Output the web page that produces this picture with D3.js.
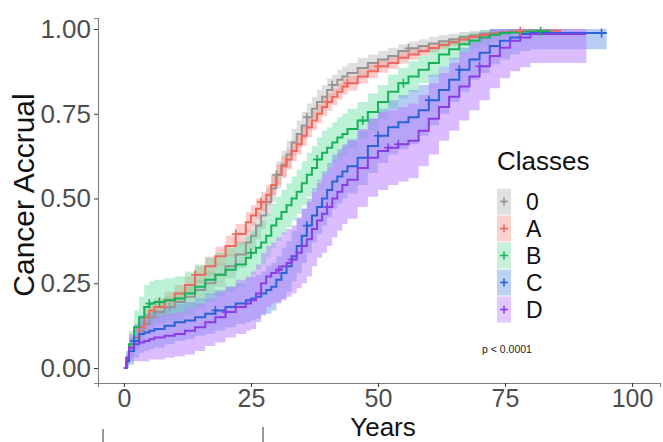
<!DOCTYPE html>
<html>
<head>
<meta charset="utf-8">
<script src="https://cdn.jsdelivr.net/npm/d3@7"></script>
<style>
  html, body { margin: 0; padding: 0; background: #fff; }
  svg { display: block; font-family: "Liberation Sans", Arial, sans-serif; }
</style>
</head>
<body>
<svg id="chart" width="663" height="442"></svg>
<script>
// Cumulative cancer accrual by class (step curves with confidence bands)
const classes = ["0", "A", "B", "C", "D"];

// shared event-time grid (years)
const times = [0, 0.5, 1, 2, 3, 4, 5, 6, 8, 10,
  12, 14, 16, 18, 20, 22, 24,
  25, 26, 27, 28, 29, 30, 31, 32, 33, 34,
  35, 36, 37, 38, 39, 40, 41, 42, 43, 44,
  46, 48, 50, 52, 54, 56, 58, 60, 62, 64,
  66, 68, 70, 72, 74, 76, 78, 80];

// last follow-up time per class
const endTimes = [83, 86, 84, 95, 91];

const accrual0 = [0, 0.02, 0.05, 0.08, 0.11, 0.13, 0.15, 0.165, 0.18, 0.195,
  0.21, 0.23, 0.25, 0.275, 0.30, 0.335, 0.37,
  0.39, 0.42, 0.45, 0.49, 0.53, 0.57, 0.60, 0.63, 0.665, 0.69,
  0.715, 0.74, 0.765, 0.785, 0.80, 0.82, 0.835, 0.85, 0.86, 0.87,
  0.885, 0.90, 0.91, 0.92, 0.935, 0.943, 0.95, 0.957, 0.964, 0.97,
  0.976, 0.981, 0.985, 0.988, 0.991, 0.993, 0.994, 0.995];
const accrualA = [0, 0.03, 0.06, 0.09, 0.12, 0.15, 0.17, 0.18, 0.20, 0.22,
  0.245, 0.275, 0.30, 0.33, 0.36, 0.395, 0.43,
  0.45, 0.47, 0.49, 0.51, 0.54, 0.57, 0.595, 0.615, 0.64, 0.66,
  0.685, 0.71, 0.73, 0.75, 0.77, 0.785, 0.80, 0.815, 0.83, 0.84,
  0.86, 0.875, 0.89, 0.90, 0.915, 0.925, 0.935, 0.944, 0.953, 0.961,
  0.969, 0.976, 0.982, 0.986, 0.99, 0.992, 0.994, 0.995];
const accrualB = [0, 0.03, 0.07, 0.12, 0.15, 0.18, 0.19, 0.195, 0.20, 0.205,
  0.22, 0.24, 0.26, 0.275, 0.29, 0.305, 0.325,
  0.34, 0.355, 0.37, 0.39, 0.42, 0.44, 0.46, 0.48, 0.50, 0.52,
  0.545, 0.57, 0.59, 0.615, 0.635, 0.65, 0.665, 0.68, 0.69, 0.705,
  0.73, 0.755, 0.785, 0.815, 0.84, 0.86, 0.88, 0.90, 0.925, 0.94,
  0.955, 0.965, 0.975, 0.983, 0.988, 0.99, 0.992, 0.993];
const accrualC = [0, 0.02, 0.05, 0.08, 0.10, 0.105, 0.11, 0.115, 0.125, 0.135,
  0.14, 0.15, 0.16, 0.17, 0.18, 0.19, 0.20,
  0.205, 0.21, 0.22, 0.23, 0.24, 0.26, 0.28, 0.30, 0.33, 0.36,
  0.39, 0.42, 0.45, 0.475, 0.50, 0.525, 0.55, 0.565, 0.58, 0.595,
  0.62, 0.655, 0.685, 0.71, 0.725, 0.74, 0.76, 0.79, 0.82, 0.85,
  0.88, 0.91, 0.93, 0.95, 0.965, 0.975, 0.985, 0.988];
const accrualD = [0, 0.03, 0.06, 0.07, 0.075, 0.08, 0.085, 0.09, 0.095, 0.10,
  0.11, 0.12, 0.135, 0.15, 0.165, 0.18, 0.19,
  0.20, 0.22, 0.25, 0.27, 0.28, 0.29, 0.30, 0.31, 0.32, 0.34,
  0.36, 0.38, 0.41, 0.435, 0.455, 0.475, 0.50, 0.52, 0.54, 0.555,
  0.59, 0.62, 0.64, 0.65, 0.66, 0.67, 0.70, 0.735, 0.77, 0.80,
  0.83, 0.86, 0.89, 0.92, 0.945, 0.965, 0.975, 0.985];

// confidence band half-widths
const err0 = [0, 0.01, 0.02, 0.025, 0.03, 0.03, 0.03, 0.03, 0.03, 0.03,
  0.03, 0.03, 0.035, 0.035, 0.035, 0.04, 0.04,
  0.04, 0.04, 0.04, 0.04, 0.04, 0.04, 0.04, 0.04, 0.04, 0.04,
  0.04, 0.04, 0.035, 0.035, 0.035, 0.035, 0.03, 0.03, 0.03, 0.03,
  0.03, 0.025, 0.025, 0.025, 0.02, 0.02, 0.02, 0.02, 0.018, 0.016,
  0.015, 0.013, 0.012, 0.01, 0.01, 0.008, 0.007, 0.006];
const errA = [0, 0.01, 0.015, 0.02, 0.025, 0.025, 0.025, 0.025, 0.025, 0.025,
  0.025, 0.025, 0.028, 0.028, 0.03, 0.03, 0.03,
  0.03, 0.03, 0.03, 0.03, 0.03, 0.03, 0.03, 0.03, 0.03, 0.03,
  0.03, 0.03, 0.028, 0.028, 0.027, 0.026, 0.025, 0.024, 0.023, 0.022,
  0.021, 0.02, 0.019, 0.018, 0.017, 0.016, 0.015, 0.014, 0.013, 0.012,
  0.011, 0.01, 0.009, 0.008, 0.007, 0.006, 0.005, 0.005];
const errB = [0, 0.02, 0.04, 0.05, 0.06, 0.065, 0.065, 0.065, 0.065, 0.065,
  0.065, 0.065, 0.065, 0.065, 0.065, 0.065, 0.065,
  0.065, 0.065, 0.065, 0.065, 0.065, 0.065, 0.065, 0.065, 0.065, 0.065,
  0.065, 0.065, 0.065, 0.065, 0.065, 0.06, 0.06, 0.06, 0.06, 0.06,
  0.055, 0.055, 0.05, 0.05, 0.045, 0.045, 0.04, 0.04, 0.035, 0.03,
  0.028, 0.025, 0.022, 0.02, 0.015, 0.012, 0.01, 0.008];
const errC = [0, 0.02, 0.04, 0.05, 0.055, 0.055, 0.055, 0.055, 0.055, 0.055,
  0.055, 0.055, 0.06, 0.06, 0.06, 0.06, 0.065,
  0.065, 0.065, 0.065, 0.07, 0.07, 0.07, 0.075, 0.075, 0.075, 0.08,
  0.08, 0.08, 0.08, 0.08, 0.08, 0.08, 0.08, 0.08, 0.08, 0.08,
  0.08, 0.08, 0.08, 0.08, 0.08, 0.08, 0.075, 0.075, 0.07, 0.065,
  0.065, 0.06, 0.06, 0.055, 0.055, 0.05, 0.05, 0.048];
const errD = [0, 0.02, 0.04, 0.05, 0.055, 0.06, 0.06, 0.065, 0.065, 0.065,
  0.07, 0.07, 0.07, 0.075, 0.075, 0.08, 0.08,
  0.085, 0.085, 0.09, 0.09, 0.09, 0.095, 0.1, 0.1, 0.1, 0.105,
  0.11, 0.11, 0.11, 0.11, 0.115, 0.115, 0.115, 0.115, 0.115, 0.115,
  0.115, 0.115, 0.115, 0.11, 0.11, 0.11, 0.105, 0.105, 0.1, 0.1,
  0.1, 0.1, 0.1, 0.095, 0.09, 0.09, 0.088, 0.085];

// censoring times per class
const censor0 = [9, 30, 36, 41, 56];
const censorA = [14, 22, 27, 40, 44, 50, 78];
const censorB = [5, 7, 25, 38, 47, 55, 82];
const censorC = [2, 18, 36, 50, 60, 66, 94];
const censorD = [20, 30.5, 33, 40, 52, 54, 70];

const yTicks = [0, 0.25, 0.5, 0.75, 1];
const xTicks = [0, 25, 50, 75, 100];
const pLabel = "p < 0.0001";

const lineColors = ["#959595", "#F0675F", "#17B35A", "#2B62D6", "#8A3DE6"];
const bandColors = ["#c4c4c4", "#F8908A", "#54DB96", "#6F9BE8", "#B77CFF"];
const bandOpacity = [0.55, 0.45, 0.4, 0.5, 0.5];
const keyColors = ["#e0e0e0", "#fdd0d0", "#c6f0da", "#bcd2f2", "#e3c8ff"];

const accrual = [accrual0, accrualA, accrualB, accrualC, accrualD];
const errs = [err0, errA, errB, errC, errD];
const censors = [censor0, censorA, censorB, censorC, censorD];

const svg = d3.select("#chart");
const x = d3.scaleLinear().domain([-5.1, 105.5]).range([98, 660]);
const y = d3.scaleLinear().domain([-0.0442, 1.0324]).range([383, 18]);

const seriesData = classes.map((c, i) => {
  const pts = times.map((t, j) => ({
    t, v: accrual[i][j],
    lo: Math.max(0, accrual[i][j] - errs[i][j]),
    hi: Math.min(1, accrual[i][j] + errs[i][j])
  }));
  const last = pts[pts.length - 1];
  pts.push({ t: endTimes[i], v: last.v, lo: last.lo, hi: last.hi });
  return { name: c, i, pts };
});

const area = d3.area().curve(d3.curveStepAfter)
  .x(d => x(d.t)).y0(d => y(d.lo)).y1(d => y(d.hi));
const line = d3.line().curve(d3.curveStepAfter)
  .x(d => x(d.t)).y(d => y(d.v));

// confidence bands
svg.append("g").selectAll("path").data(seriesData).join("path")
  .attr("d", d => area(d.pts))
  .attr("fill", d => bandColors[d.i])
  .attr("fill-opacity", d => bandOpacity[d.i])
  .attr("stroke", "none");

// accrual step curves
svg.append("g").selectAll("path").data(seriesData).join("path")
  .attr("d", d => line(d.pts))
  .attr("fill", "none")
  .attr("stroke", d => lineColors[d.i])
  .attr("stroke-width", 2);

// censor marks
const bis = d3.bisector(d => d.t).right;
seriesData.forEach(s => {
  const g = svg.append("g").attr("stroke", lineColors[s.i]).attr("stroke-width", 1.6);
  censors[s.i].forEach(ct => {
    const k = Math.max(0, bis(s.pts, ct) - 1);
    const cx = x(ct), cy = y(s.pts[k].v);
    g.append("line").attr("x1", cx - 4).attr("x2", cx + 4).attr("y1", cy).attr("y2", cy);
    g.append("line").attr("x1", cx).attr("x2", cx).attr("y1", cy - 4.5).attr("y2", cy + 4.5);
  });
});

// axes
const axisColor = "#7f7f7f";
const yAxis = svg.append("g").attr("transform", "translate(98,0)")
  .call(d3.axisLeft(y).tickValues(yTicks).tickFormat(d3.format(".2f")).tickSize(4).tickPadding(3));
const xAxis = svg.append("g").attr("transform", "translate(0,383)")
  .call(d3.axisBottom(x).tickValues(xTicks).tickFormat(d3.format("d")).tickSize(4).tickPadding(2));
[yAxis, xAxis].forEach(a => {
  a.select(".domain").attr("stroke", axisColor).attr("stroke-width", 1.1);
  a.selectAll(".tick line").attr("stroke", "#333");
  a.selectAll(".tick text").attr("fill", "#4d4d4d")
    .style("font-family", "'Liberation Sans', Arial, sans-serif").style("font-size", "26px");
});
xAxis.selectAll(".tick text").style("font-size", "25px");

// axis titles
svg.append("text").attr("transform", "translate(34,195) rotate(-90)")
  .attr("text-anchor", "middle").attr("font-size", 30).attr("fill", "#111")
  .text("Cancer Accrual");
svg.append("text").attr("x", 383).attr("y", 436)
  .attr("text-anchor", "middle").attr("font-size", 26).attr("fill", "#111")
  .text("Years");

// legend
const legend = svg.append("g");
legend.append("text").attr("x", 497).attr("y", 170)
  .attr("font-size", 26).attr("fill", "#111").text("Classes");
const keyTop = 188, keyH = 27;
classes.forEach((c, i) => {
  const ky = keyTop + i * keyH;
  legend.append("rect").attr("x", 497).attr("y", ky + 0.5).attr("width", 14).attr("height", keyH - 1)
    .attr("fill", keyColors[i]);
  const cx = 504, cy = ky + keyH / 2;
  legend.append("line").attr("x1", cx - 4).attr("x2", cx + 4).attr("y1", cy).attr("y2", cy)
    .attr("stroke", lineColors[i]).attr("stroke-width", 1.6);
  legend.append("line").attr("x1", cx).attr("x2", cx).attr("y1", cy - 4).attr("y2", cy + 4)
    .attr("stroke", lineColors[i]).attr("stroke-width", 1.6);
  legend.append("text").attr("x", 526).attr("y", cy + 8.5)
    .attr("font-size", 23).attr("fill", "#111").text(c);
});

// test annotation
svg.append("text").attr("x", 482).attr("y", 353)
  .attr("font-size", 10.5).attr("fill", "#222").text(pLabel);

// bracket marks under the axis
svg.append("g").attr("stroke", "#333").attr("stroke-width", 1)
  .selectAll("line").data([103, 263]).join("line")
  .attr("x1", d => d).attr("x2", d => d).attr("y1", (d, i) => i ? 427 : 429).attr("y2", 442);
</script>
</body>
</html>
